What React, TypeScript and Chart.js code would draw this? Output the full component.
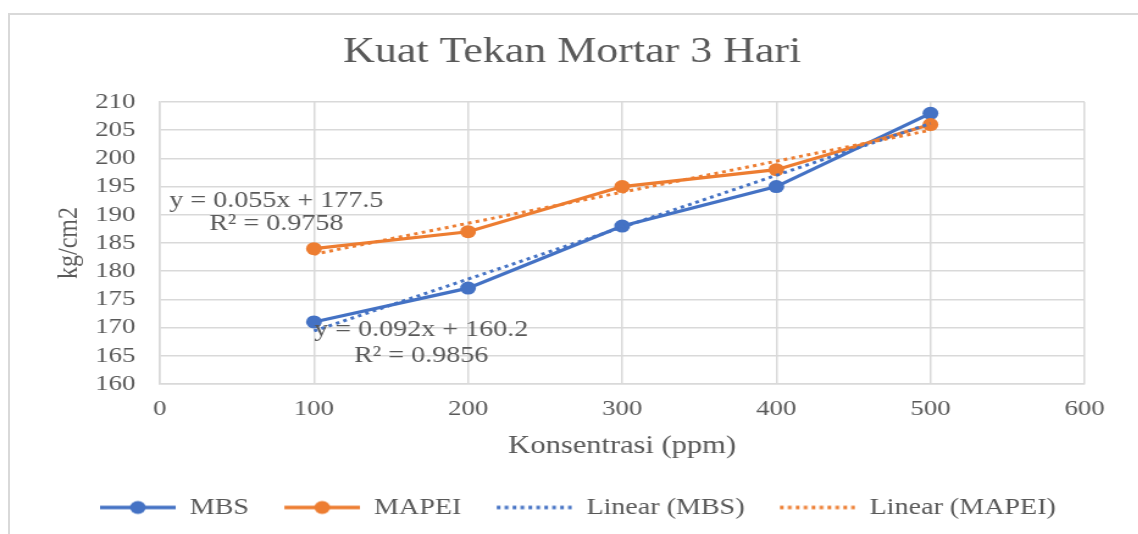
import React, { useEffect, useRef } from "react";
import { Chart, registerables } from "chart.js";

Chart.register(...registerables);

// ---- data ----
const xValues = [100, 200, 300, 400, 500];
const mbsValues = [171, 177, 188, 195, 208];
const mapeiValues = [184, 187, 195, 198, 206];
const trendX = [100, 500];
const mbsTrend = [169.4, 206.2];
const mapeiTrend = [183.0, 205.0];
const seriesLabels = ["MBS", "MAPEI", "Linear (MBS)", "Linear (MAPEI)"];
const mbsEquation = ["y = 0.092x + 160.2", "R² = 0.9856"];
const mapeiEquation = ["y = 0.055x + 177.5", "R² = 0.9758"];
const mbsEquationAt = { x: 169.6, y: [169.5, 164.9] };
const mapeiEquationAt = { x: 75.6, y: [192.5, 188.3] };
const titleText = "Kuat Tekan Mortar 3 Hari";
const xTitle = "Konsentrasi (ppm)";
const yTitle = "kg/cm2";

const BLUE = "#4472C4";
const ORANGE = "#ED7D31";
const TEXT = "#595959";
const GRID = "#d9d9d9";
const FONT = '"Liberation Serif", "Times New Roman", serif';
const STRETCH = 1.22;
const W = 933;
const H = 534;
const LEGEND_SHIFT = 53;
const TITLE_SHIFT = 24.5;
const ICON_LEAD = 19;
const ICON_LINE = 62;

function legendIcon(color: string, dotted: boolean, marker: boolean) {
  const c = document.createElement("canvas");
  c.width = ICON_LEAD + ICON_LINE;
  c.height = 16;
  const g = c.getContext("2d")!;
  g.strokeStyle = color;
  g.lineWidth = 3.5;
  if (dotted) g.setLineDash([3, 3.5]);
  g.beginPath();
  g.moveTo(ICON_LEAD, 8);
  g.lineTo(ICON_LEAD + ICON_LINE, 8);
  g.stroke();
  if (marker) {
    g.fillStyle = color;
    g.beginPath();
    g.arc(ICON_LEAD + ICON_LINE / 2, 8, 6.5, 0, Math.PI * 2);
    g.fill();
  }
  return c;
}

const eqPlugin = {
  id: "eqLabels",
  afterLayout(chart: any) {
    const lg = chart.legend;
    if (lg) {
      lg.left += LEGEND_SHIFT;
      lg.right += LEGEND_SHIFT;
    }
    const tb = chart.titleBlock;
    if (tb) {
      tb.left += TITLE_SHIFT;
      tb.right += TITLE_SHIFT;
    }
  },
  afterDatasetsDraw(chart: any) {
    const { ctx, scales } = chart;
    const xs = scales.x;
    const ys = scales.y;
    ctx.save();
    ctx.font = `23px ${FONT}`;
    ctx.fillStyle = TEXT;
    ctx.textAlign = "center";
    ctx.textBaseline = "middle";
    const draw = (lines: string[], at: { x: number; y: number[] }) => {
      lines.forEach((t, i) => {
        ctx.fillText(t, xs.getPixelForValue(at.x), ys.getPixelForValue(at.y[i]));
      });
    };
    draw(mapeiEquation, mapeiEquationAt);
    draw(mbsEquation, mbsEquationAt);
    ctx.restore();
  },
};

export default function App() {
  const ref = useRef<HTMLCanvasElement | null>(null);

  useEffect(() => {
    if (!ref.current) return;
    const icons = [
      legendIcon(BLUE, false, true),
      legendIcon(ORANGE, false, true),
      legendIcon(BLUE, true, false),
      legendIcon(ORANGE, true, false),
    ];
    const colors = [BLUE, ORANGE, BLUE, ORANGE];
    const chart = new Chart(ref.current, {
      type: "line",
      data: {
        datasets: [
          {
            label: seriesLabels[0],
            data: xValues.map((x, i) => ({ x, y: mbsValues[i] })),
            borderColor: BLUE,
            backgroundColor: BLUE,
            borderWidth: 3.2,
            pointRadius: 6.5,
            pointBorderWidth: 0,
            pointBackgroundColor: BLUE,
            order: 3,
          },
          {
            label: seriesLabels[1],
            data: xValues.map((x, i) => ({ x, y: mapeiValues[i] })),
            borderColor: ORANGE,
            backgroundColor: ORANGE,
            borderWidth: 3.2,
            pointRadius: 6.5,
            pointBorderWidth: 0,
            pointBackgroundColor: ORANGE,
            order: 2,
          },
          {
            label: seriesLabels[2],
            data: trendX.map((x, i) => ({ x, y: mbsTrend[i] })),
            borderColor: BLUE,
            borderWidth: 3,
            borderDash: [3, 3.5],
            pointRadius: 0,
            order: 1,
          },
          {
            label: seriesLabels[3],
            data: trendX.map((x, i) => ({ x, y: mapeiTrend[i] })),
            borderColor: ORANGE,
            borderWidth: 3,
            borderDash: [3, 3.5],
            pointRadius: 0,
            order: 0,
          },
        ],
      },
      options: {
        responsive: false,
        animation: false,
        events: [],
        layout: { padding: { top: 0, right: 44, bottom: 5, left: 0 } },
        plugins: {
          title: {
            display: true,
            text: titleText,
            color: TEXT,
            font: { family: FONT, size: 36, weight: "normal" },
            padding: { top: 31, bottom: 27.8 },
          },
          legend: {
            position: "bottom",
            align: "start",
            labels: {
              usePointStyle: true,
              pointStyleWidth: ICON_LEAD + ICON_LINE,
              padding: 10,
              color: TEXT,
              font: { family: FONT, size: 23 },
              generateLabels: () =>
                seriesLabels.map((t, i) => ({
                  text: t,
                  fillStyle: colors[i],
                  strokeStyle: colors[i],
                  lineWidth: 0,
                  pointStyle: icons[i],
                  hidden: false,
                  datasetIndex: i,
                  fontColor: TEXT,
                })),
            },
          },
          tooltip: { enabled: false },
        },
        scales: {
          x: {
            type: "linear",
            position: "bottom",
            min: 0,
            max: 600,
            ticks: {
              stepSize: 100,
              autoSkip: false,
              padding: 12,
              color: TEXT,
              font: { family: FONT, size: 22 },
            },
            grid: { color: GRID, lineWidth: 1.5, drawTicks: false },
            border: { color: GRID, width: 1.5 },
            title: {
              display: true,
              text: xTitle,
              color: TEXT,
              font: { family: FONT, size: 25 },
              padding: { top: 0, bottom: 25 },
            },
            afterFit: (s: any) => {
              s.height = 102;
            },
          },
          y: {
            type: "linear",
            min: 160,
            max: 210,
            ticks: {
              stepSize: 5,
              autoSkip: false,
              padding: 20,
              color: TEXT,
              font: { family: FONT, size: 22 },
            },
            grid: { color: GRID, lineWidth: 1.5, drawTicks: false },
            border: { color: GRID, width: 1.5 },
            title: {
              display: true,
              text: yTitle,
              color: TEXT,
              font: { family: FONT, size: 24 },
              padding: { top: 42, bottom: 0 },
            },
            afterFit: (s: any) => {
              s.width = 131;
            },
          },
        },
      },
      plugins: [eqPlugin],
    } as any);
    return () => chart.destroy();
  }, []);

  return (
    <>
      <div
        style={{
          position: "fixed",
          left: 8,
          top: 13,
          width: 1150,
          height: 560,
          border: `2px solid ${GRID}`,
          boxSizing: "border-box",
        }}
      />
      <div
        style={{
          position: "fixed",
          left: 0,
          top: 0,
          width: W,
          height: H,
          transform: `scaleX(${STRETCH})`,
          transformOrigin: "0 0",
        }}
      >
        <canvas ref={ref} width={W} height={H} style={{ width: W, height: H, display: "block" }} />
      </div>
    </>
  );
}
